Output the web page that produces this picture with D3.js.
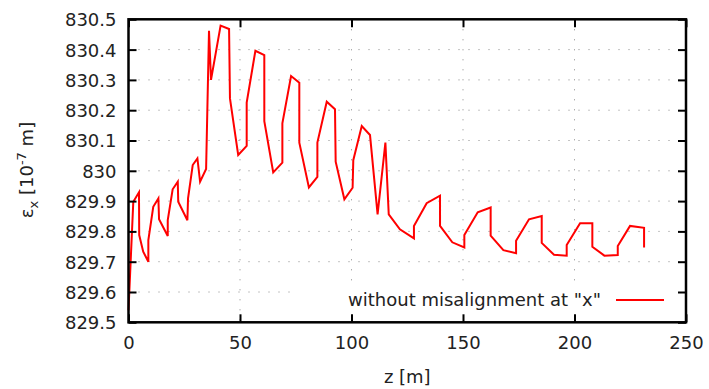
<!DOCTYPE html>
<html lang="en">
  <head>
    <meta charset="utf-8">
    <title>Emittance along z</title>
    <script type="text/javascript" src="https://cdn.jsdelivr.net/npm/d3@7"></script>
    <style>
      body { margin: 0; background: #fff; }
      svg text { font-family: "DejaVu Sans", Verdana, sans-serif; fill: #222; }
    </style>
  </head>
  <body>
    <script type="text/javascript">
      // data
      var zValues = [0, 2.15, 4.7, 4.8, 6.6, 8.9, 8.9, 11.1, 13.4, 13.7, 17.6, 17.6, 19.8, 22.1, 22.3,
        26.4, 26.7, 28.8, 30.9, 32.1, 34.8, 36.1, 37.0, 41.3, 45.1, 45.5, 49.2, 53.0, 53.0, 56.9,
        60.9, 60.9, 64.9, 69.0, 69.0, 72.9, 76.6, 76.6, 80.9, 84.7, 84.7, 88.9, 92.6, 92.9, 96.8,
        100.5, 100.8, 104.6, 108.3, 111.7, 115.2, 116.7, 121.7, 128.0, 128.0, 133.7, 139.7, 139.7,
        145.2, 150.6, 150.6, 156.6, 162.4, 162.4, 168.1, 173.8, 173.8, 179.6, 185.3, 185.3, 190.8,
        196.5, 196.5, 202.5, 208.0, 208.0, 213.4, 219.4, 219.4, 224.9, 231.2, 231.2];
      var emitValues = [829.54, 829.898, 829.929, 829.788, 829.733, 829.70, 829.771, 829.881, 829.909,
        829.84, 829.785, 829.837, 829.939, 829.964, 829.898, 829.837, 829.909, 830.019, 830.041,
        829.964, 830.006, 830.462, 830.30, 830.479, 830.468, 830.239, 830.052, 830.082, 830.225,
        830.396, 830.382, 830.164, 829.995, 830.027, 830.157, 830.313, 830.291, 830.093, 829.945,
        829.98, 830.093, 830.228, 830.203, 830.03, 829.906, 829.944, 830.035, 830.148, 830.118,
        829.856, 830.093, 829.856, 829.807, 829.777, 829.818, 829.893, 829.918, 829.818, 829.764,
        829.747, 829.788, 829.863, 829.879, 829.786, 829.738, 829.728, 829.769, 829.84, 829.851,
        829.762, 829.723, 829.72, 829.755, 829.827, 829.827, 829.749, 829.72, 829.722, 829.752,
        829.818, 829.812, 829.747];
      var xTicks = [0, 50, 100, 150, 200, 250];
      var yTicks = [829.5, 829.6, 829.7, 829.8, 829.9, 830, 830.1, 830.2, 830.3, 830.4, 830.5];
      var seriesName = 'without misalignment at "x"';

      var w = 709;
      var h = 389;
      var pLeft = 128.5, pRight = 686, pTop = 19.3, pBottom = 322.3;

      var svg = d3.select("body")
        .append("svg")
        .attr("width", w)
        .attr("height", h);

      var xScale = d3.scaleLinear().domain([0, 250]).range([pLeft, pRight]);
      var yScale = d3.scaleLinear().domain([829.5, 830.5]).range([pBottom, pTop]);

      var data = zValues.map(function(z, i) { return {z: z, e: emitValues[i]}; });

      // grid
      svg.append("g")
        .selectAll("line")
        .data(yTicks.slice(1, -1))
        .enter()
        .append("line")
        .attr("x1", pLeft).attr("x2", pRight)
        .attr("y1", function(d) { return yScale(d); })
        .attr("y2", function(d) { return yScale(d); })
        .attr("stroke", "#888").attr("stroke-width", 1)
        .attr("stroke-dasharray", "1,9");

      svg.append("g")
        .selectAll("line")
        .data(xTicks.slice(1, -1))
        .enter()
        .append("line")
        .attr("y1", pTop).attr("y2", pBottom)
        .attr("x1", function(d) { return xScale(d); })
        .attr("x2", function(d) { return xScale(d); })
        .attr("stroke", "#888").attr("stroke-width", 1)
        .attr("stroke-dasharray", "1,9");

      // key box hides grid behind it
      svg.append("rect")
        .attr("x", 291).attr("y", 286)
        .attr("width", pRight - 292).attr("height", pBottom - 287)
        .attr("fill", "#fff");

      // data line
      var line = d3.line()
        .x(function(d) { return xScale(d.z); })
        .y(function(d) { return yScale(d.e); });

      svg.append("path")
        .datum(data)
        .attr("d", line)
        .attr("fill", "none")
        .attr("stroke", "#ff0000")
        .attr("stroke-width", 2)
        .attr("stroke-linejoin", "miter");

      // axes (ticks inside, mirrored)
      var xAxis = d3.axisBottom(xScale).tickValues(xTicks).tickSize(-8).tickPadding(14);
      var yAxis = d3.axisLeft(yScale).tickValues(yTicks)
        .tickFormat(function(d) { return String(+d.toFixed(1)); })
        .tickSize(-8).tickPadding(12);

      var gx = svg.append("g")
        .attr("transform", "translate(0," + pBottom + ")")
        .call(xAxis);
      var gy = svg.append("g")
        .attr("transform", "translate(" + pLeft + ",0)")
        .call(yAxis);
      svg.append("g")
        .attr("transform", "translate(0," + pTop + ")")
        .call(d3.axisTop(xScale).tickValues(xTicks).tickSize(-8).tickFormat(""));
      svg.append("g")
        .attr("transform", "translate(" + pRight + ",0)")
        .call(d3.axisRight(yScale).tickValues(yTicks).tickSize(-8).tickFormat(""));

      svg.selectAll(".domain").remove();
      svg.selectAll(".tick line").attr("stroke", "#000").attr("stroke-width", 2);
      svg.selectAll(".tick text").style("font-size", "18px").attr("fill", "#222");
      gy.selectAll(".tick text").attr("dy", "0.36em");

      svg.append("rect")
        .attr("x", pLeft).attr("y", pTop)
        .attr("width", pRight - pLeft).attr("height", pBottom - pTop)
        .attr("fill", "none").attr("stroke", "#000").attr("stroke-width", 2.5);

      // key
      svg.append("text")
        .attr("x", 601).attr("y", 306)
        .attr("text-anchor", "end")
        .style("font-size", "18px")
        .text(seriesName);
      svg.append("line")
        .attr("x1", 616).attr("x2", 664)
        .attr("y1", 300).attr("y2", 300)
        .attr("stroke", "#ff0000").attr("stroke-width", 2);

      // axis labels
      svg.append("text")
        .attr("x", (pLeft + pRight) / 2).attr("y", 383)
        .attr("text-anchor", "middle")
        .style("font-size", "18px")
        .text("z [m]");

      var yl = svg.append("text")
        .attr("transform", "translate(33,170) rotate(-90)")
        .attr("text-anchor", "middle")
        .style("font-size", "18px");
      yl.append("tspan").text("ε");
      yl.append("tspan").attr("dy", 5).style("font-size", "13px").text("x");
      yl.append("tspan").attr("dy", -5).text(" [10");
      yl.append("tspan").attr("dy", -7).style("font-size", "13px").text("-7");
      yl.append("tspan").attr("dy", 7).text(" m]");
    </script>
  </body>
</html>
